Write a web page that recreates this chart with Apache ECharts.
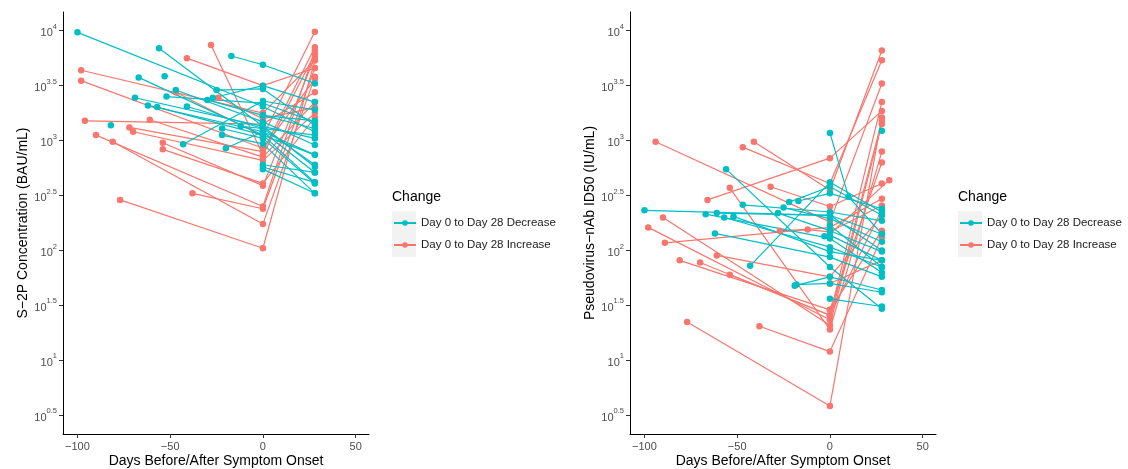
<!DOCTYPE html>
<html>
<head>
<meta charset="utf-8">
<script src="https://cdn.jsdelivr.net/npm/echarts@6/dist/echarts.min.js"></script>
<style>
  html, body { margin: 0; padding: 0; background: #fff; }
  #chart { width: 1128px; height: 469px; }
</style>
</head>
<body>
<div id="chart"></div>
<script>
// each subject = list of [day, log10(value)] points
const s2pDecrease = [
    [[-100, 3.985], [0, 3.31], [28, 3.08]],
    [[-56, 3.84], [0, 3.13], [28, 2.76]],
    [[-17, 3.77], [0, 3.69], [28, 3.52]],
    [[-67, 3.575], [0, 3.05], [28, 2.87]],
    [[-53, 3.585]],
    [[-47, 3.46], [0, 3.17], [28, 2.96]],
    [[-69, 3.39], [0, 3.13], [28, 3.02]],
    [[-62, 3.32], [0, 3.08], [28, 2.71]],
    [[-57, 3.305], [0, 3.05], [28, 2.62]],
    [[-52, 3.40], [0, 3.34], [28, 3.17]],
    [[-82, 3.14]],
    [[-43, 2.966], [0, 3.36], [28, 3.28]],
    [[-30, 3.37], [0, 3.23], [28, 3.11]],
    [[-25, 3.46], [0, 3.47], [28, 3.14]],
    [[-27, 3.39], [0, 3.50], [28, 3.35]],
    [[-41, 3.31], [0, 3.11], [28, 2.78]],
    [[-22, 3.11], [0, 3.02], [28, 2.61]],
    [[-22, 3.05], [0, 2.97], [28, 2.52]],
    [[-20, 2.93], [0, 3.08], [28, 2.87]],
    [[-12, 3.13], [0, 3.11], [28, 3.05]],
    [[0, 2.78], [28, 2.71]],
    [[0, 2.76], [28, 2.62]],
    [[0, 2.74], [28, 2.52]],
    [[0, 3.23], [28, 3.18]]
];
const s2pIncrease = [
    [[-28, 3.87], [0, 2.87], [28, 3.79]],
    [[-41, 3.75], [0, 3.50], [28, 3.66]],
    [[-98, 3.64], [0, 3.25], [28, 3.73]],
    [[-98, 3.545], [0, 2.93], [28, 3.56]],
    [[-96, 3.18], [0, 3.15], [28, 3.44]],
    [[-61, 3.19], [0, 2.85], [28, 3.35]],
    [[-72, 3.12], [0, 2.90], [28, 3.85]],
    [[-70, 3.08], [0, 2.82], [28, 3.25]],
    [[-90, 3.05], [0, 2.40], [28, 3.82]],
    [[-81, 2.99], [0, 2.24], [28, 3.58]],
    [[-54, 2.98], [0, 2.59], [28, 3.76]],
    [[-54, 2.92], [0, 2.61], [28, 3.21]],
    [[-38, 2.52], [0, 2.38], [28, 3.66]],
    [[-77, 2.46], [0, 2.02], [28, 3.73]],
    [[-47, 3.44], [0, 3.04], [28, 3.99]],
    [[-24, 3.39], [0, 3.20], [28, 3.30]]
];
const nabDecrease = [
    [[-100, 2.365], [0, 2.32], [28, 2.00]],
    [[-56, 2.74], [0, 1.85], [28, 1.47]],
    [[-47, 2.415], [0, 2.35], [28, 2.27]],
    [[-67, 2.33], [0, 2.11], [28, 1.80]],
    [[-61, 2.34], [0, 2.32], [28, 2.15]],
    [[-57, 2.30], [0, 2.03], [28, 1.85]],
    [[-52, 2.31], [0, 1.99], [28, 1.91]],
    [[-62, 2.155], [0, 1.94], [28, 1.76]],
    [[-43, 1.86], [0, 2.62], [28, 2.35]],
    [[-25, 2.39], [0, 2.29], [28, 2.08]],
    [[-22, 2.44], [0, 2.58], [28, 2.32]],
    [[-17, 2.45], [0, 2.52], [28, 2.38]],
    [[-28, 2.34], [0, 2.18], [28, 1.99]],
    [[-19, 1.68], [0, 1.76], [28, 1.64]],
    [[-18, 1.69], [0, 1.70], [28, 1.62]],
    [[-3, 2.13], [0, 2.14], [28, 1.91]],
    [[0, 3.07], [10, 2.49], [28, 2.15]],
    [[0, 1.56], [28, 1.49]],
    [[0, 2.23], [28, 1.85]],
    [[28, 3.09]]
];
const nabIncrease = [
    [[-94, 2.99], [0, 2.26], [28, 3.52]],
    [[-47, 2.94], [0, 2.61], [28, 3.73]],
    [[-41, 2.99], [0, 2.55], [28, 3.82]],
    [[-66, 2.46], [0, 2.84], [28, 3.27]],
    [[-54, 2.57], [0, 1.28], [28, 2.90]],
    [[-32, 2.58], [0, 2.40], [28, 2.61]],
    [[-90, 2.30], [0, 1.32], [28, 3.15]],
    [[-98, 2.21], [0, 1.37], [28, 3.18]],
    [[-89, 2.07], [0, 2.21], [28, 2.47]],
    [[-81, 1.91], [0, 1.46], [28, 2.80]],
    [[-70, 1.89], [0, 1.41], [28, 3.35]],
    [[-61, 1.955], [0, 1.76], [28, 2.32]],
    [[-54, 1.78], [0, 1.41], [28, 2.37]],
    [[-77, 1.35], [0, 0.585], [28, 3.21]],
    [[-38, 1.31], [0, 1.08], [28, 2.12]],
    [[-27, 2.18], [-12, 2.19], [0, 2.17], [28, 2.41]],
    [[0, 2.15], [32, 2.64]],
    [[0, 1.70], [28, 1.91]],
    [[0, 1.46], [28, 2.18]]
];

const xTicks = [-100, -50, 0, 50];
const yTicks = [0.5, 1, 1.5, 2, 2.5, 3, 3.5, 4];

const DEC = 'Day 0 to Day 28 Decrease';
const INC = 'Day 0 to Day 28 Increase';
const TEAL = '#00BFC4';
const SALMON = '#F8766D';
const FONT = '"Liberation Sans", Arial, Helvetica, sans-serif';

const chart = echarts.init(document.getElementById('chart'));

function xAxisFor(gridIndex) {
    return {
        type: 'value', gridIndex: gridIndex,
        min: -107.8, max: 57.2,
        name: 'Days Before/After Symptom Onset',
        nameLocation: 'middle', nameGap: 20, nameMoveOverlap: false,
        nameTextStyle: { fontSize: 14, color: '#000', fontFamily: FONT },
        axisLine: { show: true, onZero: false, lineStyle: { color: '#000', width: 1 } },
        axisTick: { show: true, length: 4, customValues: xTicks, lineStyle: { color: '#333' } },
        axisLabel: {
            customValues: xTicks, margin: 7, fontSize: 11, color: '#4d4d4d', fontFamily: FONT,
            formatter: v => String(v).replace('-', '\u2212')
        },
        splitLine: { show: false }
    };
}

function yAxisFor(gridIndex, title) {
    return {
        type: 'value', gridIndex: gridIndex,
        min: 0.33, max: 4.17,
        name: title,
        nameLocation: 'middle', nameGap: 33, nameRotate: 90, nameMoveOverlap: false,
        nameTextStyle: { fontSize: 14, color: '#000', fontFamily: FONT },
        axisLine: { show: true, onZero: false, lineStyle: { color: '#000', width: 1 } },
        axisTick: { show: true, length: 4, customValues: yTicks, lineStyle: { color: '#333' } },
        axisLabel: {
            customValues: yTicks, margin: 6,
            formatter: v => '{b|10}{e|' + v + '}',
            rich: {
                b: { fontSize: 11, color: '#4d4d4d', fontFamily: FONT, lineHeight: 16, verticalAlign: 'bottom' },
                e: { fontSize: 7.5, color: '#4d4d4d', fontFamily: FONT, lineHeight: 16, verticalAlign: 'top' }
            }
        },
        splitLine: { show: false }
    };
}

function subjectSeries(subjects, name, color, idx) {
    return subjects.map(pts => ({
        name: name,
        type: 'line',
        xAxisIndex: idx, yAxisIndex: idx,
        data: pts,
        symbol: 'circle', symbolSize: 6.5, showSymbol: true,
        lineStyle: { color: color, width: 1.2 },
        itemStyle: { color: color },
        emphasis: { disabled: true },
        silent: true
    }));
}

function legendFor(left) {
    return {
        left: left, top: 216, orient: 'vertical', padding: 0,
        itemWidth: 22, itemHeight: 7, itemGap: 8,
        selectedMode: false,
        data: [DEC, INC],
        textStyle: { fontSize: 11.5, lineHeight: 14, color: '#1a1a1a', fontFamily: FONT }
    };
}

function legendDecor(left) {
    return [
        { type: 'rect', left: left, top: 211, shape: { width: 24, height: 46 }, style: { fill: '#f2f2f2' }, z: -1 },
        { type: 'text', left: left, top: 190, style: { text: 'Change', fontSize: 14, fill: '#000', fontFamily: FONT } }
    ];
}

const option = {
    animation: false,
    grid: [
        { left: 63, top: 12, width: 306, height: 422, outerBoundsMode: 'none' },
        { left: 630, top: 12, width: 306, height: 422, outerBoundsMode: 'none' }
    ],
    xAxis: [xAxisFor(0), xAxisFor(1)],
    yAxis: [
        yAxisFor(0, 'S\u22122P Concentration (BAU/mL)'),
        yAxisFor(1, 'Pseudovirus\u2212nAb ID50 (IU/mL)')
    ],
    legend: [legendFor(393), legendFor(959)],
    graphic: legendDecor(392).concat(legendDecor(958)),
    series: [].concat(
        subjectSeries(s2pIncrease, INC, SALMON, 0),
        subjectSeries(s2pDecrease, DEC, TEAL, 0),
        subjectSeries(nabIncrease, INC, SALMON, 1),
        subjectSeries(nabDecrease, DEC, TEAL, 1)
    )
};

chart.setOption(option);
</script>
</body>
</html>
